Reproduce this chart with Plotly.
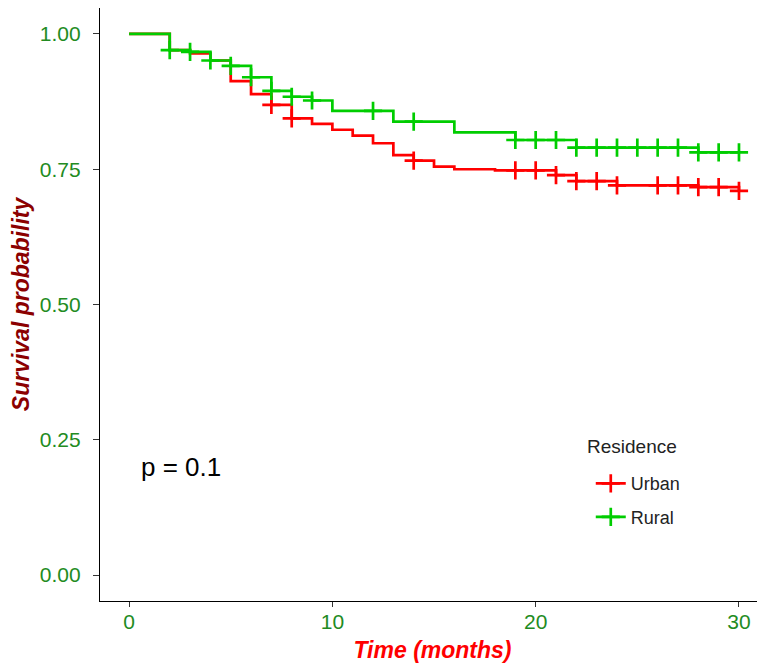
import numpy as np
import plotly.graph_objects as go

# ---- data ----
urban_times = [0, 2, 3, 4, 5, 6, 7, 8, 9, 10, 11, 12, 13, 14, 15, 16, 18, 21, 22, 24, 28, 30]
urban_surv = [1.0, 0.970, 0.964, 0.951, 0.913, 0.889, 0.869, 0.844, 0.834, 0.823, 0.812,
              0.798, 0.776, 0.766, 0.755, 0.750, 0.748, 0.739, 0.728, 0.720, 0.717, 0.710]
urban_censor = [7, 8, 14, 19, 20, 21, 22, 23, 24, 26, 27, 28, 29, 30]

rural_times = [0, 2, 3, 4, 5, 6, 7, 8, 9, 10, 13, 16, 19, 22, 28, 30]
rural_surv = [1.0, 0.970, 0.967, 0.951, 0.941, 0.920, 0.895, 0.884, 0.877, 0.858,
              0.838, 0.818, 0.804, 0.790, 0.781, 0.781]
rural_censor = [2, 3, 4, 5, 6, 7, 8, 9, 12, 14, 19, 20, 21, 22, 23, 24, 25, 26, 27, 28, 29, 30]

x_ticks = [0, 10, 20, 30]
y_ticks = [0.0, 0.25, 0.50, 0.75, 1.00]
y_tick_labels = ["0.00", "0.25", "0.50", "0.75", "1.00"]
p_value_text = "p = 0.1"
legend_title = "Residence"

RED = "#FF0000"
GREEN = "#00CD00"
TICK_COLOR = "#228B22"
FONT = "Liberation Sans, Arial, sans-serif"


def step_at(times, surv, t):
    idx = np.searchsorted(np.array(times), np.array(t), side="right") - 1
    return list(np.array(surv)[idx])


fig = go.Figure()

# legend-only entries (line + cross)
for name, col in [("Urban", RED), ("Rural", GREEN)]:
    fig.add_trace(go.Scatter(
        x=[None], y=[None], mode="lines+markers", name=name,
        line=dict(color=col, width=2.7),
        marker=dict(symbol="cross-thin", size=13, line=dict(color=col, width=2.7)),
        legendgroup=name, showlegend=True))

for name, times, surv, cens, col in [
    ("Urban", urban_times, urban_surv, urban_censor, RED),
    ("Rural", rural_times, rural_surv, rural_censor, GREEN),
]:
    fig.add_trace(go.Scatter(
        x=times, y=surv, mode="lines", line=dict(color=col, width=2.7, shape="hv"),
        showlegend=False, legendgroup=name, hoverinfo="skip"))
    fig.add_trace(go.Scatter(
        x=cens, y=step_at(times, surv, cens), mode="markers",
        marker=dict(symbol="cross-thin", size=13, line=dict(color=col, width=2.7)),
        showlegend=False, legendgroup=name, hoverinfo="skip"))

fig.add_annotation(
    x=0.5, y=0.2, xref="x", yref="y", text=p_value_text, showarrow=False,
    xanchor="left", yanchor="middle", font=dict(family=FONT, size=26, color="black"))

fig.add_annotation(
    x=0.729, y=0.26, xref="paper", yref="paper", text=legend_title, showarrow=False,
    xanchor="left", yanchor="middle", font=dict(family=FONT, size=19, color="#222222"))

fig.update_layout(
    width=757, height=661,
    margin=dict(l=92, r=0, t=0, b=68),
    paper_bgcolor="white", plot_bgcolor="white",
    font=dict(family=FONT),
    showlegend=True,
    legend=dict(
        font=dict(family=FONT, size=18, color="#222222"),
        x=0.738, y=0.229, xanchor="left", yanchor="top",
        bgcolor="rgba(0,0,0,0)", tracegroupgap=7, itemwidth=30),
)

fig.update_xaxes(
    range=[-1.43, 31.28], tickvals=x_ticks, ticktext=[str(v) for v in x_ticks],
    showgrid=False, zeroline=False, showline=True, linecolor="black", linewidth=1.2,
    ticks="outside", ticklen=5, tickcolor="#333333", tickwidth=1.2, automargin=False,
    ticklabelstandoff=-3,
    tickfont=dict(family=FONT, size=21, color=TICK_COLOR),
    title=dict(text="<b><i>Time (months)</i></b>", standoff=9,
               font=dict(family=FONT, size=23, color="#FF0000")))

fig.update_yaxes(
    range=[-0.048, 1.048], tickvals=y_ticks, ticktext=y_tick_labels,
    showgrid=False, zeroline=False, showline=True, linecolor="black", linewidth=1.2,
    ticks="outside", ticklen=6, tickcolor="#333333", tickwidth=1.2, automargin=False,
    ticklabelstandoff=8,
    tickfont=dict(family=FONT, size=21, color=TICK_COLOR),
    title=dict(text="<b><i>Survival probability</i></b>", standoff=4,
               font=dict(family=FONT, size=23, color="#8B0000")))

fig.write_html("out.html")
